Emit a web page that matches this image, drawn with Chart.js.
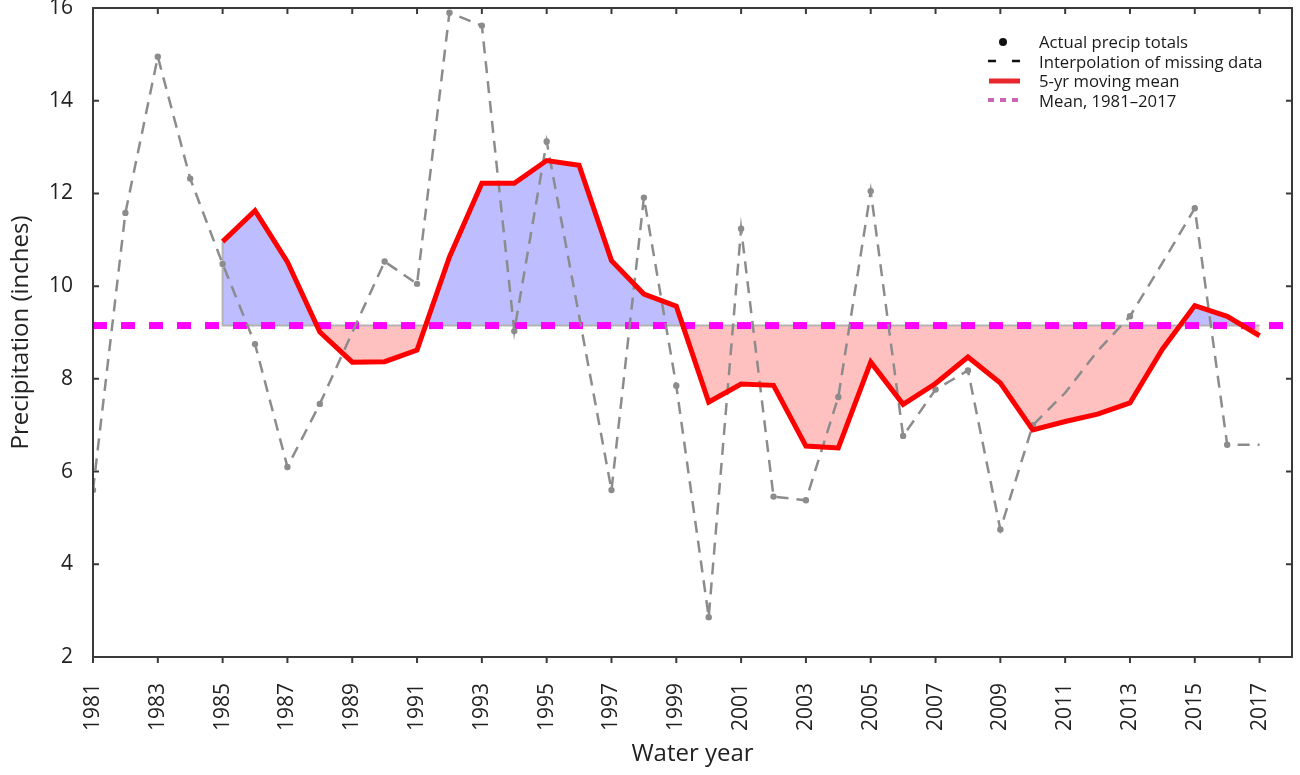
<!DOCTYPE html>
<html>
<head>
<meta charset="utf-8">
<script src="https://cdn.jsdelivr.net/npm/chart.js@4.4.1/dist/chart.umd.min.js"></script>
<style>
  body { margin: 0; background: #fff; font-family: "Open Sans", sans-serif; }
  #wrap { position: relative; width: 1300px; height: 775px; }
  #legend { position: absolute; left: 984px; top: 32px; font-size: 16.7px; color: #1a1a1a; }
  #legend .row { display: flex; align-items: center; height: 19.5px; }
  #legend svg { width: 40px; height: 12px; margin-right: 15px; }
</style>
</head>
<body>
<div id="wrap">
  <canvas id="chart" width="1300" height="775"></canvas>
  <div id="legend">
    <div class="row"><svg viewBox="0 0 40 12"><circle cx="19" cy="6" r="4" fill="#111"/></svg>Actual precip totals</div>
    <div class="row"><svg viewBox="0 0 40 12"><line x1="4" y1="6" x2="36" y2="6" stroke="#111" stroke-width="2.5" stroke-dasharray="8 16"/></svg>Interpolation of missing data</div>
    <div class="row"><svg viewBox="0 0 40 12"><line x1="5" y1="6" x2="36" y2="6" stroke="#e8262b" stroke-width="5"/></svg>5-yr moving mean</div>
    <div class="row"><svg viewBox="0 0 40 12"><line x1="4" y1="6" x2="36" y2="6" stroke="#c965b4" stroke-width="4" stroke-dasharray="6 6"/></svg>Mean, 1981–2017</div>
  </div>
</div>
<script>
// Données
const years = [1981, 1982, 1983, 1984, 1985, 1986, 1987, 1988, 1989, 1990,
  1991, 1992, 1993, 1994, 1995, 1996, 1997, 1998, 1999, 2000,
  2001, 2002, 2003, 2004, 2005, 2006, 2007, 2008, 2009, 2010,
  2011, 2012, 2013, 2014, 2015, 2016, 2017];

// Totaux observés (null = année manquante)
const actualPrecip = [5.60, 11.58, 14.95, 12.32, 10.48, 8.75, 6.10, 7.46, null, 10.53,
  10.05, 15.90, 15.62, 9.03, 13.12, null, 5.60, 11.91, 7.85, 2.86,
  11.24, 5.46, 5.38, 7.61, 12.05, 6.77, 7.77, 8.18, 4.75, 7.00,
  null, null, 9.35, null, 11.68, 6.58, null];

// Valeurs du trait pointillé aux années manquantes
const missingPrecip = [null, null, null, null, null, null, null, null, 9.00, null,
  null, null, null, null, null, 9.36, null, null, null, null,
  null, null, null, null, null, null, null, null, null, null,
  7.70, 8.60, null, 10.50, null, null, 6.58];

// Moyenne mobile sur 5 ans
const movingMean = [null, null, null, null, 10.96, 11.63, 10.52, 9.01, 8.36, 8.37,
  8.62, 10.63, 12.22, 12.22, 12.71, 12.61, 10.55, 9.83, 9.57, 7.50,
  7.89, 7.86, 6.55, 6.51, 8.36, 7.45, 7.90, 8.47, 7.91, 6.90,
  7.08, 7.24, 7.48, 8.64, 9.58, 9.35, 8.93];

const meanPrecip = 9.15;
const tickYears = [1981, 1983, 1985, 1987, 1989, 1991, 1993, 1995, 1997, 1999,
  2001, 2003, 2005, 2007, 2009, 2011, 2013, 2015, 2017];
const yTicks = [2, 4, 6, 8, 10, 12, 14, 16];
const xMax = 2018;

const FONT = '"Open Sans", sans-serif';

const toPoints = arr => years.map((yr, i) => ({ x: yr, y: arr[i] }));
const dashedLine = years.map((yr, i) => ({
  x: yr,
  y: actualPrecip[i] !== null ? actualPrecip[i] : missingPrecip[i]
}));

// Bord gris du remplissage (vertical au début puis sur la moyenne)
const firstMean = movingMean.findIndex(v => v !== null);
const boundary = [
  { x: years[firstMean], y: movingMean[firstMean] },
  { x: years[firstMean], y: meanPrecip },
  { x: years[years.length - 1], y: meanPrecip }
];

// Cadre et petites graduations
const frameTicks = {
  id: 'frameTicks',
  afterDraw(chart) {
    const { ctx, chartArea: a, scales: { x, y } } = chart;
    ctx.save();
    ctx.strokeStyle = '#3a3a3a';
    ctx.lineWidth = 2;
    ctx.strokeRect(a.left, a.top, a.right - a.left, a.bottom - a.top);
    ctx.beginPath();
    x.ticks.forEach((t, i) => {
      const px = x.getPixelForTick(i);
      ctx.moveTo(px, a.bottom); ctx.lineTo(px, a.bottom + 6);
      ctx.moveTo(px, a.top); ctx.lineTo(px, a.top + 6);
    });
    y.ticks.forEach((t, i) => {
      const py = y.getPixelForTick(i);
      ctx.moveTo(a.left, py); ctx.lineTo(a.left + 6, py);
      ctx.moveTo(a.right, py); ctx.lineTo(a.right - 6, py);
    });
    ctx.stroke();
    ctx.restore();
  }
};

new Chart(document.getElementById('chart'), {
  type: 'line',
  data: {
    datasets: [
      {
        label: '5-yr moving mean',
        data: toPoints(movingMean),
        borderColor: '#ff0000',
        borderWidth: 5,
        pointRadius: 0,
        fill: { target: { value: meanPrecip }, above: '#bdbdff', below: '#ffc0c0' },
        order: 1
      },
      {
        label: 'Actual precip totals',
        data: toPoints(actualPrecip),
        showLine: false,
        pointRadius: 3.2,
        pointBackgroundColor: '#8c8c8c',
        pointBorderWidth: 0,
        order: 2
      },
      {
        label: 'Interpolation of missing data',
        data: dashedLine,
        borderColor: '#8c8c8c',
        borderWidth: 2.5,
        borderDash: [12, 8],
        pointRadius: 0,
        order: 3
      },
      {
        label: 'Mean, 1981–2017',
        data: [{ x: years[0], y: meanPrecip }, { x: xMax, y: meanPrecip }],
        borderColor: '#ff00ff',
        borderWidth: 7,
        borderDash: [14, 14],
        pointRadius: 0,
        order: 4
      },
      {
        label: 'boundary',
        data: boundary,
        borderColor: '#b3b3b3',
        borderWidth: 2,
        pointRadius: 0,
        order: 5
      }
    ]
  },
  options: {
    responsive: false,
    animation: false,
    devicePixelRatio: 1,
    layout: { padding: { left: 0, right: 8, top: 8, bottom: 0 } },
    plugins: {
      legend: { display: false },
      tooltip: { enabled: false },
      filler: { drawTime: 'beforeDatasetsDraw' }
    },
    scales: {
      x: {
        type: 'linear',
        min: years[0],
        max: xMax,
        grid: { display: false },
        border: { display: false },
        afterBuildTicks: axis => { axis.ticks = tickYears.map(v => ({ value: v })); },
        afterFit: scale => {
          scale.height = 118;
          scale.paddingLeft = 0;
          scale.paddingRight = 0;
        },
        ticks: {
          autoSkip: false,
          maxRotation: 90,
          minRotation: 90,
          padding: 18,
          color: '#222',
          font: { family: FONT, size: 21 },
          callback: v => String(v)
        },
        title: {
          display: true,
          text: 'Water year',
          color: '#222',
          font: { family: FONT, size: 24 },
          padding: { top: 0, bottom: 6 }
        }
      },
      y: {
        min: 2,
        max: 16,
        grid: { display: false },
        border: { display: false },
        afterBuildTicks: axis => { axis.ticks = yTicks.map(v => ({ value: v })); },
        afterFit: scale => {
          scale.width = 93;
          scale.paddingTop = 0;
          scale.paddingBottom = 0;
        },
        ticks: {
          padding: 12,
          color: '#222',
          font: { family: FONT, size: 21 }
        },
        title: {
          display: true,
          text: 'Precipitation (inches)',
          color: '#222',
          font: { family: FONT, size: 24 },
          padding: { top: 7, bottom: 0 }
        }
      }
    }
  },
  plugins: [frameTicks]
});
</script>
</body>
</html>
